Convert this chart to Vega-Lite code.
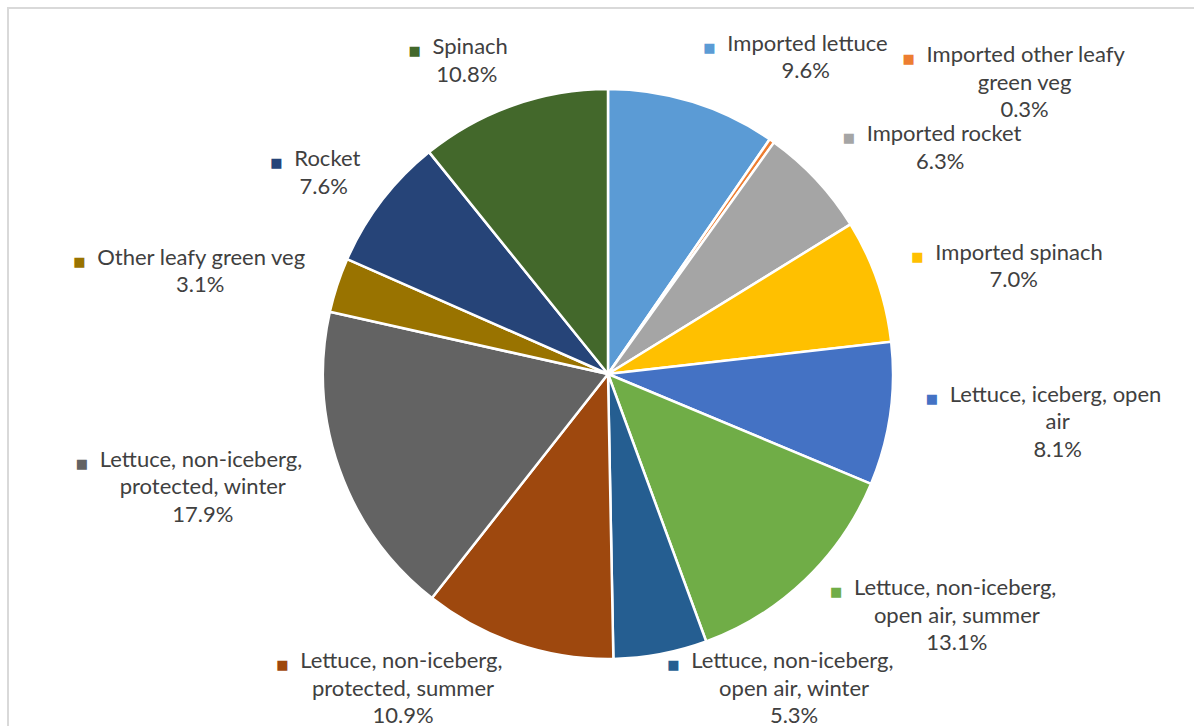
{
  "$schema": "https://vega.github.io/schema/vega-lite/v6.json",
  "width": 1200,
  "height": 732,
  "autosize": {"type": "none"},
  "padding": {"left": 8, "top": 8, "right": -14, "bottom": -14},
  "background": "white",
  "config": {
    "view": {"stroke": null},
    "text": {"font": "Lato", "fontSize": 22, "color": "#404040"}
  },
  "datasets": {
    "slices": [
      {"name": "Imported lettuce", "label": "Imported lettuce", "share": 0.096},
      {"name": "Imported other leafy green veg", "label": "Imported other leafy\ngreen veg", "share": 0.003},
      {"name": "Imported rocket", "label": "Imported rocket", "share": 0.063},
      {"name": "Imported spinach", "label": "Imported spinach", "share": 0.070},
      {"name": "Lettuce, iceberg, open air", "label": "Lettuce, iceberg, open\nair", "share": 0.081},
      {"name": "Lettuce, non-iceberg, open air, summer", "label": "Lettuce, non-iceberg,\nopen air, summer", "share": 0.131},
      {"name": "Lettuce, non-iceberg, open air, winter", "label": "Lettuce, non-iceberg,\nopen air, winter", "share": 0.053},
      {"name": "Lettuce, non-iceberg, protected, summer", "label": "Lettuce, non-iceberg,\nprotected, summer", "share": 0.109},
      {"name": "Lettuce, non-iceberg, protected, winter", "label": "Lettuce, non-iceberg,\nprotected, winter", "share": 0.179},
      {"name": "Other leafy green veg", "label": "Other leafy green veg", "share": 0.031},
      {"name": "Rocket", "label": "Rocket", "share": 0.076},
      {"name": "Spinach", "label": "Spinach", "share": 0.108}
    ],
    "frame": [{"frame": "chart area"}]
  },
  "layer": [
    {
      "data": {"name": "frame"},
      "mark": {"type": "rect", "fill": "white", "fillOpacity": 0, "stroke": "#D9D9D9", "strokeWidth": 2},
      "encoding": {}
    },
    {
      "data": {"name": "slices"},
      "layer": [
        {
          "mark": {"type": "arc", "outerRadius": 285, "stroke": "white", "strokeWidth": 2.5},
          "encoding": {
            "theta": {"field": "share", "type": "quantitative", "stack": true},
            "color": {
              "field": "name",
              "type": "nominal",
              "legend": null,
              "scale": {
                "domain": ["Imported lettuce", "Imported other leafy green veg", "Imported rocket", "Imported spinach", "Lettuce, iceberg, open air", "Lettuce, non-iceberg, open air, summer", "Lettuce, non-iceberg, open air, winter", "Lettuce, non-iceberg, protected, summer", "Lettuce, non-iceberg, protected, winter", "Other leafy green veg", "Rocket", "Spinach"],
                "range": ["#5B9BD5", "#ED7D31", "#A5A5A5", "#FFC000", "#4472C4", "#70AD47", "#255E91", "#9E480E", "#636363", "#997300", "#264478", "#43682B"]
              }
            }
          }
        },
        {
          "mark": {
            "type": "text",
            "radius": 0,
            "align": "left",
            "baseline": "middle",
            "font": "DejaVu Sans",
            "fontSize": 13,
            "text": "■",
            "dx": {"expr": "321*sin(PI*(datum.share_start+datum.share_end)) + (sin(PI*(datum.share_start+datum.share_end)) >= 0 ? 1 : -1)*(9.8*length(split(datum.label, '\\n')[0]) + 24)/2*(datum.share < 0.01 ? 2 : 1) - (9.8*length(split(datum.label, '\\n')[0]) + 24)/2"},
            "dy": {"expr": "min(-333*cos(PI*(datum.share_start+datum.share_end)) - (datum.share < 0.01 ? 20 : 0) - 13.75*(length(split(datum.label, '\\n')) + 1) + 5, 277) + 14"}
          },
          "encoding": {
            "theta": {"field": "share", "type": "quantitative", "stack": true},
            "color": {"field": "name", "type": "nominal", "legend": null}
          }
        },
        {
          "mark": {
            "type": "text",
            "radius": 0,
            "align": "left",
            "baseline": "top",
            "text": {"expr": "split(datum.label, '\\n')[0]"},
            "dx": {"expr": "321*sin(PI*(datum.share_start+datum.share_end)) + (sin(PI*(datum.share_start+datum.share_end)) >= 0 ? 1 : -1)*(9.8*length(split(datum.label, '\\n')[0]) + 24)/2*(datum.share < 0.01 ? 2 : 1) - (9.8*length(split(datum.label, '\\n')[0]) + 24)/2 + 24"},
            "dy": {"expr": "min(-333*cos(PI*(datum.share_start+datum.share_end)) - (datum.share < 0.01 ? 20 : 0) - 13.75*(length(split(datum.label, '\\n')) + 1) + 5, 277)"}
          },
          "encoding": {
            "theta": {"field": "share", "type": "quantitative", "stack": true},
            "detail": {"field": "name", "type": "nominal"}
          }
        },
        {
          "mark": {
            "type": "text",
            "radius": 0,
            "align": "center",
            "baseline": "top",
            "lineHeight": 27.5,
            "text": {"expr": "slice(split(datum.label + '\\n' + format(datum.share, '.1%'), '\\n'), 1)"},
            "dx": {"expr": "321*sin(PI*(datum.share_start+datum.share_end)) + (sin(PI*(datum.share_start+datum.share_end)) >= 0 ? 1 : -1)*(9.8*length(split(datum.label, '\\n')[0]) + 24)/2*(datum.share < 0.01 ? 2 : 1) + 12"},
            "dy": {"expr": "min(-333*cos(PI*(datum.share_start+datum.share_end)) - (datum.share < 0.01 ? 20 : 0) - 13.75*(length(split(datum.label, '\\n')) + 1) + 5, 277) + 27.5"}
          },
          "encoding": {
            "theta": {"field": "share", "type": "quantitative", "stack": true},
            "detail": {"field": "name", "type": "nominal"}
          }
        }
      ]
    }
  ]
}
